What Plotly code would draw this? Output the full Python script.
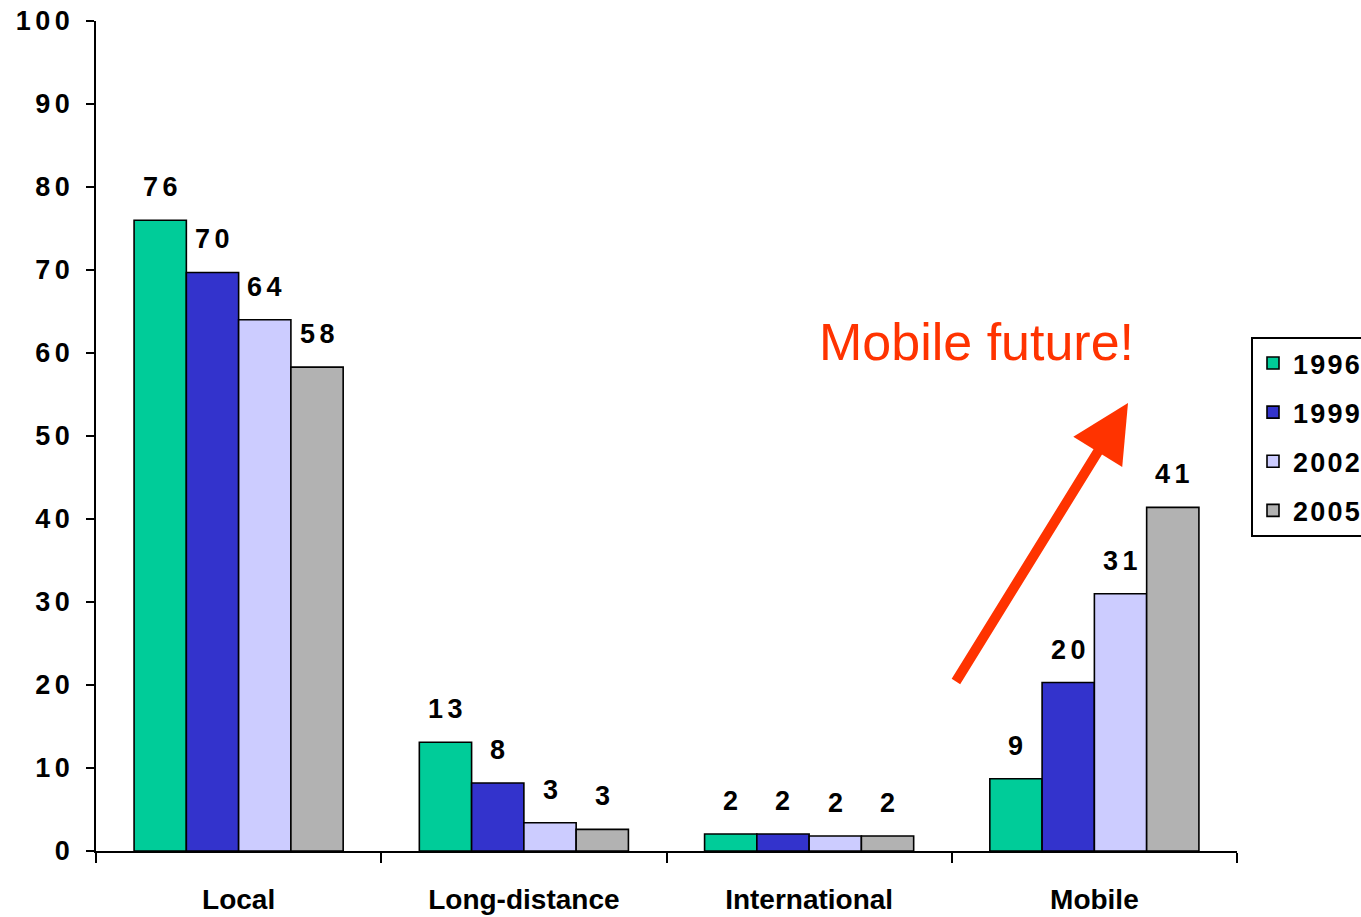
import plotly.graph_objects as go

# Share of traffic by call type, per survey year
categories = ["Local", "Long-distance", "International", "Mobile"]
years = ["1996", "1999", "2002", "2005"]
values_1996 = [76.0, 13.1, 2.05, 8.7]
values_1999 = [69.7, 8.2, 2.05, 20.3]
values_2002 = [64.0, 3.4, 1.8, 31.0]
values_2005 = [58.3, 2.6, 1.8, 41.4]
series = [values_1996, values_1999, values_2002, values_2005]
colors = ["#00CC99", "#3333CC", "#CCCCFF", "#B2B2B2"]
y_ticks = list(range(0, 101, 10))

HAIR = "\u200a"
SIXTH = "\u2006"
FONT = "Liberation Sans, Arial"
FS = 27


def spaced(s, sep=HAIR):
    return sep.join(s)


BARGAP = 0.267
n = len(series)
bar_w = (1 - BARGAP) / n

fig = go.Figure()
for name, vals, col in zip(years, series, colors):
    fig.add_trace(go.Bar(
        x=categories, y=vals, name=spaced(name, HAIR),
        marker=dict(color=col, line=dict(color="black", width=1.6)),
        legendgroup=name,
    ))

# value labels above each bar
annotations = []
for j, vals in enumerate(series):
    for i, v in enumerate(vals):
        xpos = i - (1 - BARGAP) / 2 + bar_w * (j + 0.5)
        annotations.append(dict(
            x=xpos, y=v, xref="x", yref="y", text=spaced(f"{v:.0f}", SIXTH),
            showarrow=False, yanchor="bottom", yshift=16,
            font=dict(family=FONT, size=FS, color="black", weight="bold"),
        ))

annotations.append(dict(
    x=(817 - 96) / 1141, y=0.613, xref="paper", yref="paper",
    xanchor="left", yanchor="middle", text="Mobile future!", showarrow=False,
    font=dict(family=FONT, size=52, color="#FF3300", weight="normal"),
))
annotations.append(dict(
    x=(1128 - 96) / 1141, y=(851 - 403) / 830, xref="paper", yref="paper",
    ax=-173, ay=280, axref="pixel", ayref="pixel", text="", showarrow=True,
    arrowhead=2, arrowsize=1.15, arrowwidth=10, arrowcolor="#FF3300",
))

fig.update_layout(
    width=1361, height=917,
    margin=dict(l=96, r=124, t=21, b=66, autoexpand=False),
    plot_bgcolor="white", paper_bgcolor="white",
    barmode="group", bargap=BARGAP, bargroupgap=0,
    font=dict(family=FONT, size=FS, color="black", weight="bold"),
    annotations=annotations,
    showlegend=True,
    legend=dict(
        x=(1251 - 96) / 1141, y=(851 - 337) / 830, xanchor="left", yanchor="top",
        bordercolor="black", borderwidth=2, bgcolor="white",
        font=dict(family=FONT, size=FS, color="black", weight="bold"),
        tracegroupgap=11,
    ),
    xaxis=dict(
        type="category", categoryorder="array", categoryarray=categories,
        showline=True, linecolor="black", linewidth=1.5,
        ticks="outside", ticklen=10, tickwidth=1.5, tickcolor="black",
        tickson="boundaries", ticklabelstandoff=23,
        tickfont=dict(family=FONT, size=28, color="black", weight="bold"),
        showgrid=False, zeroline=False,
    ),
    yaxis=dict(
        range=[0, 100], tickmode="array", tickvals=y_ticks,
        ticktext=[spaced(str(t), SIXTH) for t in y_ticks],
        showline=True, linecolor="black", linewidth=1.5,
        ticks="outside", ticklen=8, tickwidth=1.5, tickcolor="black",
        ticklabelstandoff=11,
        showgrid=False, zeroline=False,
    ),
)

fig.write_html("out.html")
